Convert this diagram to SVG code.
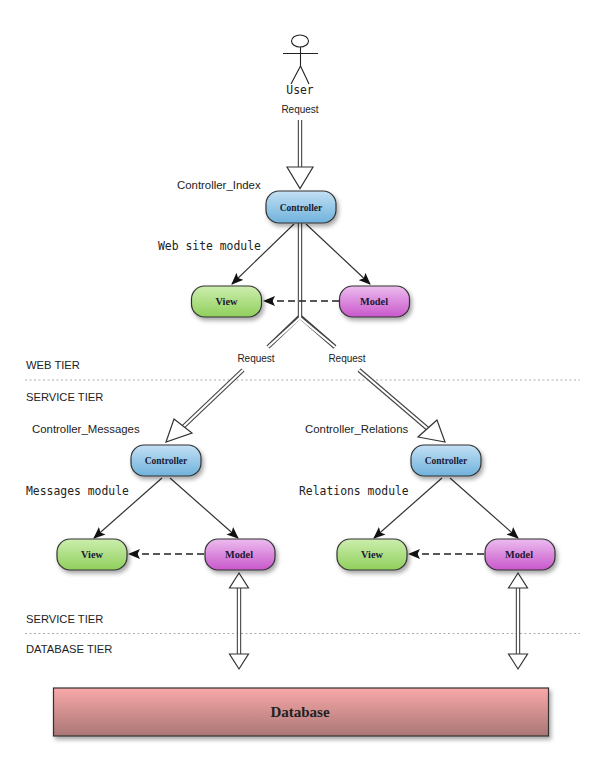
<svg xmlns="http://www.w3.org/2000/svg" width="600" height="776" viewBox="0 0 600 776">
<style>
text{fill:#222}
.s{font-family:"Liberation Sans",Arial,sans-serif;font-size:11.4px}
.r{font-family:"Liberation Sans",Arial,sans-serif;font-size:10px;text-anchor:middle}
.t{font-family:"Liberation Sans",Arial,sans-serif;font-size:11.2px}
.m{font-family:"DejaVu Sans Mono",monospace;font-size:11.4px}
.n{font-family:"Liberation Serif",serif;font-weight:bold;font-size:9.5px;text-anchor:middle;fill:#1a1a33}
.q{font-size:10.3px}
.box{stroke:#333;stroke-width:1.2;filter:url(#sh)}
.a{fill:none;stroke:#333;stroke-width:1.2;marker-end:url(#ah)}
.d{stroke-dasharray:7 4;stroke:#222;stroke-width:1.4}
.o{fill:none;stroke:#444;stroke-width:4.4}
.w{fill:none;stroke:#fff;stroke-width:2.2}
.h{fill:#fff;stroke:#333;stroke-width:1.2;stroke-linejoin:miter}
.g{stroke:#aaa;stroke-width:1;stroke-dasharray:2 2.5}
.k{fill:none;stroke:#222;stroke-width:1.1}
</style>
<defs>
<filter id="sh" x="-20%" y="-30%" width="150%" height="170%"><feDropShadow dx="2" dy="3" stdDeviation="2.2" flood-color="#000" flood-opacity="0.35"/></filter>
<linearGradient id="b" x1="0" y1="0" x2="0" y2="1"><stop offset="0" stop-color="#c3e0f4"/><stop offset="1" stop-color="#6fb2dc"/></linearGradient>
<linearGradient id="v" x1="0" y1="0" x2="0" y2="1"><stop offset="0" stop-color="#cdeeae"/><stop offset="1" stop-color="#8fcf5c"/></linearGradient>
<linearGradient id="p" x1="0" y1="0" x2="0" y2="1"><stop offset="0" stop-color="#ecbcef"/><stop offset="1" stop-color="#c957cb"/></linearGradient>
<linearGradient id="db" x1="0" y1="0" x2="0" y2="1"><stop offset="0" stop-color="#f9a8a8"/><stop offset="1" stop-color="#aa7676"/></linearGradient>
<marker id="ah" viewBox="0 0 12 10" refX="11" refY="5" markerWidth="12" markerHeight="10" markerUnits="userSpaceOnUse" orient="auto"><path d="M0 0L12 5L0 10L2.500 5z" fill="#111"/></marker>
</defs>

<g id="tiers">
<line class="g" x1="25" y1="380" x2="580" y2="380"/>
<line class="g" x1="25" y1="633.500" x2="580" y2="633.500"/>
<text class="t" x="26" y="369">WEB TIER</text>
<text class="t" x="26" y="401">SERVICE TIER</text>
<text class="t" x="26" y="623">SERVICE TIER</text>
<text class="t" x="26" y="653">DATABASE TIER</text>
</g>

<g id="connectors">
<path class="o" d="M300 120V168"/><path class="w" d="M300 120V168"/>
<polygon class="h" points="287,167 313,167 300,188.500"/>
<path class="o" d="M268 347L300 316.500L335 347M300 316.500V223"/>
<path class="w" d="M268 347L300 318L335 347M300 318V223"/>
<path class="o" d="M243 370L183 427"/><path class="w" d="M243 370L183 427"/>
<polygon class="h" points="174,419 192,433 166,442"/>
<path class="o" d="M359 370L428 429"/><path class="w" d="M359 370L428 429"/>
<polygon class="h" points="437,420 418,437 445,442"/>
<path class="a" d="M294 224L232 284"/>
<path class="a" d="M306 224L370 284"/>
<path class="a d" d="M339 301H264"/>
<path class="a" d="M162 478L94 538"/>
<path class="a" d="M170 478L238 538"/>
<path class="a d" d="M204 554H129"/>
<path class="a" d="M442 478L374 538"/>
<path class="a" d="M450 478L518 538"/>
<path class="a d" d="M484 554H409"/>
<path class="o" d="M239 587V655"/><path class="w" d="M239 587V655"/>
<polygon class="h" points="239,573 248.500,588 229.500,588"/>
<polygon class="h" points="229.500,654 248.500,654 239,669"/>
<path class="o" d="M518 587V655"/><path class="w" d="M518 587V655"/>
<polygon class="h" points="518,573 527.500,588 508.500,588"/>
<polygon class="h" points="508.500,654 527.500,654 518,669"/>
<text class="r" x="300" y="113">Request</text>
<text class="r" x="256" y="362">Request</text>
<text class="r" x="347" y="362">Request</text>
</g>

<g id="user">
<ellipse class="k" cx="300" cy="41" rx="8.500" ry="6"/>
<path class="k" d="M283 53.500H318M300.500 47V66M300.500 66L291 84M300.500 66L309 84"/>
<text class="m" x="300" y="94" text-anchor="middle">User</text>
</g>

<g id="controller-index">
<rect class="box" x="266" y="191" width="70" height="32" rx="13" fill="url(#b)"/>
<text class="n" x="301" y="211">Controller</text>
<text class="s" x="177" y="189">Controller_Index</text>
</g>
<g id="view-index"><rect class="box" x="191.500" y="286" width="70" height="31" rx="13" fill="url(#v)"/><text class="n q" x="226.500" y="305">View</text></g>
<g id="model-index"><rect class="box" x="339.500" y="286" width="70" height="31" rx="13" fill="url(#p)"/><text class="n q" x="374" y="305">Model</text></g>
<text class="m" x="158" y="250">Web site module</text>

<g id="controller-messages">
<rect class="box" x="131" y="445" width="70" height="31" rx="13" fill="url(#b)"/>
<text class="n" x="166" y="464">Controller</text>
<text class="s" x="32" y="433">Controller_Messages</text>
</g>
<g id="view-messages"><rect class="box" x="57" y="539" width="70" height="31" rx="13" fill="url(#v)"/><text class="n q" x="92" y="558">View</text></g>
<g id="model-messages"><rect class="box" x="205" y="539" width="70" height="31" rx="13" fill="url(#p)"/><text class="n q" x="239" y="558">Model</text></g>
<text class="m" x="26" y="495">Messages module</text>

<g id="controller-relations">
<rect class="box" x="411" y="445" width="70" height="31" rx="13" fill="url(#b)"/>
<text class="n" x="446" y="464">Controller</text>
<text class="s" x="305" y="433">Controller_Relations</text>
</g>
<g id="view-relations"><rect class="box" x="337" y="539" width="70" height="31" rx="13" fill="url(#v)"/><text class="n q" x="372" y="558">View</text></g>
<g id="model-relations"><rect class="box" x="485" y="539" width="70" height="31" rx="13" fill="url(#p)"/><text class="n q" x="519" y="558">Model</text></g>
<text class="m" x="299" y="495">Relations module</text>

<g id="database">
<rect class="box" x="53.500" y="688" width="495" height="48" fill="url(#db)"/>
<text class="n" x="300" y="717" style="font-size:15px;fill:#222">Database</text>
</g>
</svg>
